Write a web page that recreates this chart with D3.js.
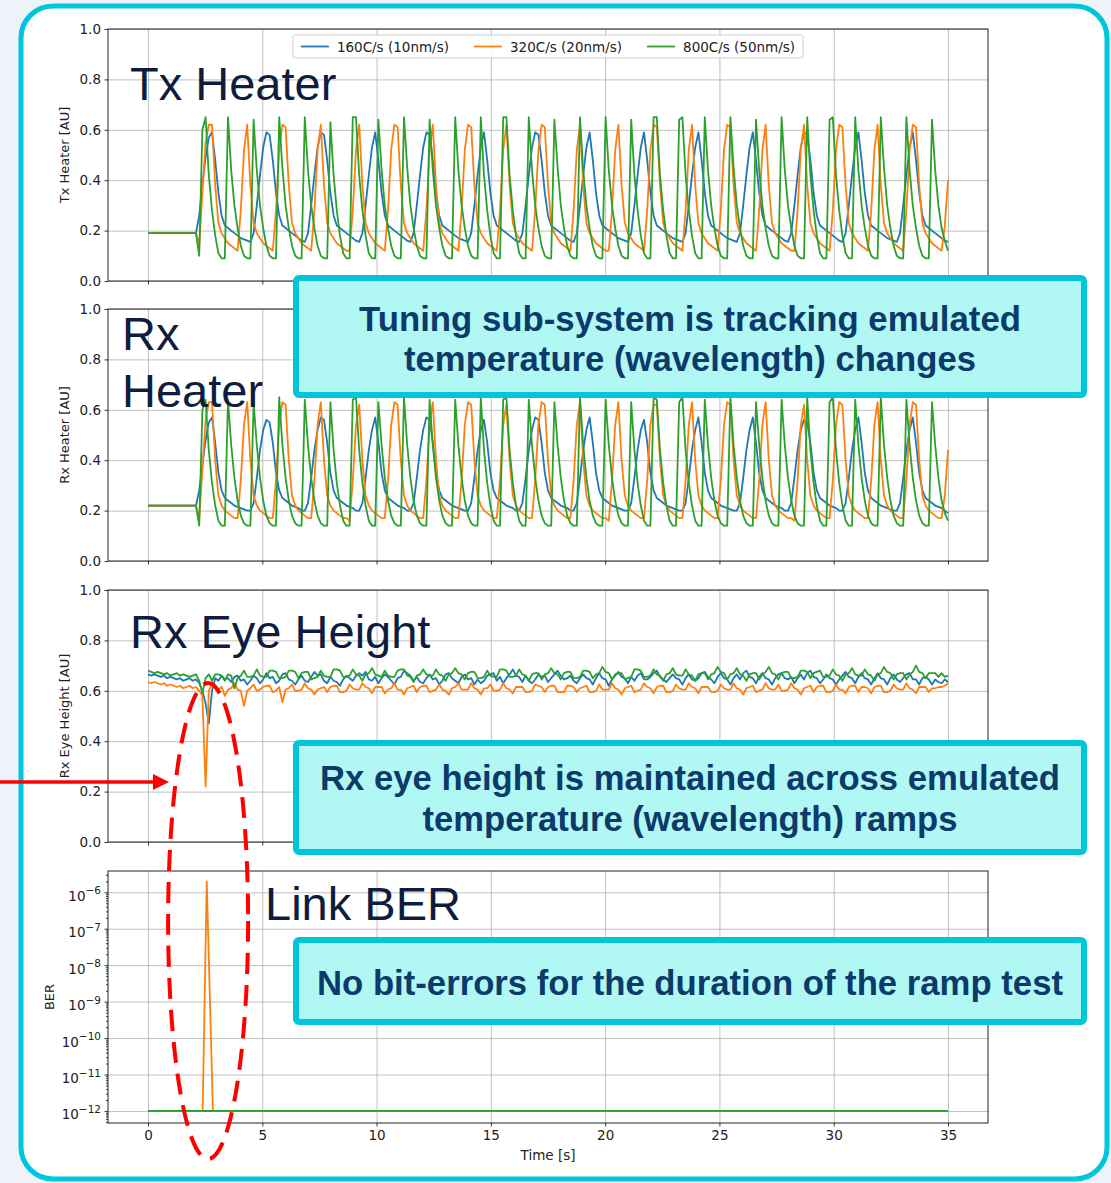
<!DOCTYPE html>
<html>
<head>
<meta charset="utf-8">
<script src="https://cdn.jsdelivr.net/npm/d3@7"></script>
<style>
	body { margin: 0; background: #eef2f9; }
	svg { display: block; font-family: "DejaVu Sans", sans-serif; }
</style>
</head>
<body>
<div id="chart"></div>
<script>

///////////////////////////////////////////////////////////////////////////
////////////////////////////////// Data ///////////////////////////////////
///////////////////////////////////////////////////////////////////////////

var sampleStep = 0.14; // seconds between two heater / eye samples
var seriesNames = ["160C/s (10nm/s)", "320C/s (20nm/s)", "800C/s (50nm/s)"];
var seriesColors = ["#1f77b4", "#ff7f0e", "#2ca02c"];
var xTicks = [0, 5, 10, 15, 20, 25, 30, 35];
var yTicks = [0, 0.2, 0.4, 0.6, 0.8, 1.0];
var berExponents = [-12, -11, -10, -9, -8, -7, -6];
var yLabels = ["Tx Heater [AU]", "Rx Heater [AU]", "Rx Eye Height [AU]", "BER"];
var panelTitles = [["Tx Heater"], ["Rx", "Heater"], ["Rx Eye Height"], ["Link BER"]];
var noteLines = [
	["Tuning sub-system is tracking emulated", "temperature (wavelength) changes"],
	["Rx eye height is maintained across emulated", "temperature (wavelength) ramps"],
	["No bit-errors for the duration of the ramp test"]
];

// Tx heater
var txBlue = [
	.19, .19, .19, .19, .19, .19, .19, .19, .19, .19, .19, .19, .19, .19, .19, .19,
	.26, .38, .49, .57, .59, .48, .35, .26, .22, .21, .20, .19, .18, .17, .165, .16, .155, .19, .30, .42, .53,
	.59, .58, .48, .35, .26, .22, .21, .20, .19, .18, .17, .16, .155, .19, .30, .42, .53,
	.59, .58, .48, .35, .26, .22, .21, .20, .19, .18, .17, .16, .155, .19, .30, .42, .53,
	.59, .48, .35, .26, .22, .21, .20, .19, .18, .17, .16, .155, .19, .30, .42, .53,
	.59, .58, .48, .35, .26, .22, .21, .20, .19, .18, .17, .165, .16, .155, .19, .30, .42, .53,
	.59, .48, .35, .26, .22, .21, .20, .19, .18, .17, .16, .155, .19, .30, .42, .53,
	.59, .58, .48, .35, .26, .22, .21, .20, .19, .18, .17, .16, .155, .19, .30, .42, .53,
	.59, .48, .35, .26, .22, .21, .20, .19, .18, .17, .165, .16, .155, .19, .30, .42, .53,
	.59, .48, .35, .26, .22, .21, .20, .19, .18, .17, .165, .16, .155, .19, .30, .42, .53,
	.59, .48, .35, .26, .22, .21, .20, .19, .18, .17, .165, .16, .155, .19, .30, .42, .53,
	.59, .48, .35, .26, .22, .21, .20, .19, .18, .17, .16, .155, .19, .30, .42, .53,
	.59, .58, .48, .35, .26, .22, .21, .20, .19, .18, .17, .16, .155, .19, .30, .42, .53,
	.59, .48, .35, .26, .22, .21, .20, .19, .18, .17, .165, .16, .155, .19, .30, .42, .53,
	.59, .48, .35, .26, .22, .21, .20, .19, .18, .17, .16, .155
];
var txOrange = [
	.19, .19, .19, .19, .19, .19, .19, .19, .19, .19, .19, .19, .19, .19, .19, .19,
	.14, .35, .55, .62, .62, .38, .23, .19, .17, .15, .14, .13, .12, .28, .52,
	.62, .38, .23, .19, .17, .15, .14, .13, .12, .28, .52,
	.62, .61, .38, .23, .19, .17, .15, .14, .13, .12, .28, .52,
	.62, .38, .23, .19, .17, .15, .14, .13, .12, .12, .28, .52,
	.62, .38, .23, .19, .17, .15, .14, .13, .12, .28, .52,
	.62, .61, .38, .23, .19, .17, .15, .14, .13, .12, .28, .52,
	.62, .38, .23, .19, .17, .15, .14, .13, .12, .28, .52,
	.62, .61, .38, .23, .19, .17, .15, .14, .13, .12, .28, .52,
	.62, .38, .23, .19, .17, .15, .14, .13, .12, .28, .52,
	.62, .61, .38, .23, .19, .17, .15, .14, .13, .12, .28, .52,
	.62, .38, .23, .19, .17, .15, .14, .13, .12, .12, .28, .52,
	.62, .38, .23, .19, .17, .15, .14, .13, .12, .28, .52,
	.62, .61, .38, .23, .19, .17, .15, .14, .13, .12, .28, .52,
	.62, .38, .23, .19, .17, .15, .14, .13, .12, .28, .52,
	.62, .61, .38, .23, .19, .17, .15, .14, .13, .12, .28, .52,
	.62, .38, .23, .19, .17, .15, .14, .13, .12, .12, .28, .52,
	.62, .38, .23, .19, .17, .15, .14, .13, .12, .28, .52,
	.62, .61, .38, .23, .19, .17, .15, .14, .13, .12, .28, .52,
	.62, .38, .23, .19, .17, .15, .14, .13, .12, .28, .52,
	.62, .61, .38, .23, .19, .17, .15, .14, .13, .12, .22, .40
];
var txGreen = [
	.19, .19, .19, .19, .19, .19, .19, .19, .19, .19, .19, .19, .19, .19, .19, .19,
	.10, .60, .65, .42, .28, .18, .11, .09, .09,
	.65, .44, .30, .21, .14, .10, .09, .09,
	.64, .44, .30, .21, .14, .10, .09, .09,
	.65, .45, .30, .21, .14, .10, .09, .09,
	.65, .44, .30, .21, .14, .10, .09, .09,
	.63, .42, .28, .18, .11, .09, .09,
	.65, .65, .42, .28, .18, .11, .09, .09,
	.64, .44, .30, .21, .14, .10, .09, .09,
	.65, .45, .30, .21, .14, .10, .09, .09,
	.64, .44, .30, .21, .14, .10, .09, .09,
	.65, .44, .30, .21, .14, .10, .09, .09,
	.65, .42, .28, .18, .11, .09, .09,
	.65, .65, .42, .28, .18, .11, .09, .09,
	.65, .44, .30, .21, .14, .10, .09, .09,
	.64, .45, .30, .21, .14, .10, .09, .09,
	.65, .44, .30, .21, .14, .10, .09, .09,
	.65, .44, .30, .21, .14, .10, .09, .09,
	.64, .42, .28, .18, .11, .09, .09,
	.65, .65, .42, .28, .18, .11, .09, .09,
	.64, .65, .42, .28, .18, .11, .09, .09,
	.65, .44, .30, .21, .14, .10, .09, .09,
	.65, .45, .30, .21, .14, .10, .09, .09,
	.64, .44, .30, .21, .14, .10, .09, .09,
	.65, .44, .30, .21, .14, .10, .09, .09,
	.65, .42, .28, .18, .11, .09, .09,
	.64, .65, .42, .28, .18, .11, .09, .09,
	.65, .44, .30, .21, .14, .10, .09, .09,
	.65, .45, .30, .21, .14, .10, .09, .09,
	.65, .44, .30, .21, .14, .10, .09, .09,
	.64, .44, .30, .21, .16, .12
];

// Rx heater
var rxBlue = [
	.22, .22, .22, .22, .22, .22, .22, .22, .22, .22, .22, .22, .22, .22, .22, .22,
	.28, .38, .48, .55, .57, .47, .35, .28, .25, .24, .23, .22, .215, .21, .205, .20, .20, .23, .33, .44, .52,
	.56, .55, .47, .35, .28, .25, .24, .23, .22, .215, .21, .20, .20, .23, .33, .44, .52,
	.57, .56, .47, .35, .28, .25, .24, .23, .22, .215, .21, .20, .20, .23, .33, .44, .52,
	.57, .47, .35, .28, .25, .24, .23, .22, .215, .21, .20, .20, .23, .33, .44, .52,
	.57, .56, .47, .35, .28, .25, .24, .23, .22, .215, .21, .205, .20, .20, .23, .33, .44, .52,
	.56, .47, .35, .28, .25, .24, .23, .22, .215, .21, .20, .20, .23, .33, .44, .52,
	.57, .56, .47, .35, .28, .25, .24, .23, .22, .215, .21, .20, .20, .23, .33, .44, .52,
	.57, .47, .35, .28, .25, .24, .23, .22, .215, .21, .205, .20, .20, .23, .33, .44, .52,
	.56, .47, .35, .28, .25, .24, .23, .22, .215, .21, .205, .20, .20, .23, .33, .44, .52,
	.57, .47, .35, .28, .25, .24, .23, .22, .215, .21, .205, .20, .20, .23, .33, .44, .52,
	.57, .47, .35, .28, .25, .24, .23, .22, .215, .21, .20, .20, .23, .33, .44, .52,
	.56, .55, .47, .35, .28, .25, .24, .23, .22, .215, .21, .20, .20, .23, .33, .44, .52,
	.57, .47, .35, .28, .25, .24, .23, .22, .215, .21, .205, .20, .20, .23, .33, .44, .52,
	.57, .47, .35, .28, .25, .24, .23, .22, .215, .21, .20, .19
];
var rxOrange = [
	.22, .22, .22, .22, .22, .22, .22, .22, .22, .22, .22, .22, .22, .22, .22, .22,
	.17, .36, .56, .63, .63, .40, .26, .22, .20, .19, .18, .17, .17, .32, .54,
	.63, .40, .26, .22, .20, .19, .18, .17, .17, .32, .54,
	.63, .62, .40, .26, .22, .20, .19, .18, .17, .17, .32, .54,
	.63, .40, .26, .22, .20, .19, .18, .17, .17, .16, .32, .54,
	.62, .40, .26, .22, .20, .19, .18, .17, .17, .32, .54,
	.63, .62, .40, .26, .22, .20, .19, .18, .17, .17, .32, .54,
	.63, .40, .26, .22, .20, .19, .18, .17, .17, .32, .54,
	.63, .62, .40, .26, .22, .20, .19, .18, .17, .17, .32, .54,
	.62, .40, .26, .22, .20, .19, .18, .17, .17, .32, .54,
	.63, .62, .40, .26, .22, .20, .19, .18, .17, .17, .32, .54,
	.63, .40, .26, .22, .20, .19, .18, .17, .17, .16, .32, .54,
	.63, .40, .26, .22, .20, .19, .18, .17, .17, .32, .54,
	.62, .62, .40, .26, .22, .20, .19, .18, .17, .17, .32, .54,
	.63, .40, .26, .22, .20, .19, .18, .17, .17, .32, .54,
	.63, .62, .40, .26, .22, .20, .19, .18, .17, .17, .32, .54,
	.63, .40, .26, .22, .20, .19, .18, .17, .17, .16, .32, .54,
	.62, .40, .26, .22, .20, .19, .18, .17, .17, .32, .54,
	.63, .62, .40, .26, .22, .20, .19, .18, .17, .17, .32, .54,
	.63, .40, .26, .22, .20, .19, .18, .17, .17, .32, .54,
	.63, .62, .40, .26, .22, .20, .19, .18, .17, .17, .26, .44
];
var rxGreen = [
	.22, .22, .22, .22, .22, .22, .22, .22, .22, .22, .22, .22, .22, .22, .22, .22,
	.14, .60, .64, .44, .31, .22, .16, .14, .14,
	.64, .46, .33, .24, .18, .15, .14, .14,
	.63, .46, .33, .24, .18, .15, .14, .14,
	.65, .46, .33, .24, .18, .15, .14, .14,
	.64, .46, .33, .24, .18, .15, .14, .14,
	.63, .44, .31, .22, .16, .14, .14,
	.64, .65, .44, .31, .22, .16, .14, .14,
	.63, .46, .33, .24, .18, .15, .14, .14,
	.65, .46, .33, .24, .18, .15, .14, .14,
	.64, .46, .33, .24, .18, .15, .14, .14,
	.64, .46, .33, .24, .18, .15, .14, .14,
	.65, .44, .31, .22, .16, .14, .14,
	.64, .65, .44, .31, .22, .16, .14, .14,
	.64, .46, .33, .24, .18, .15, .14, .14,
	.63, .46, .33, .24, .18, .15, .14, .14,
	.65, .46, .33, .24, .18, .15, .14, .14,
	.64, .46, .33, .24, .18, .15, .14, .14,
	.63, .44, .31, .22, .16, .14, .14,
	.65, .64, .44, .31, .22, .16, .14, .14,
	.63, .65, .44, .31, .22, .16, .14, .14,
	.64, .46, .33, .24, .18, .15, .14, .14,
	.65, .46, .33, .24, .18, .15, .14, .14,
	.63, .46, .33, .24, .18, .15, .14, .14,
	.64, .46, .33, .24, .18, .15, .14, .14,
	.65, .44, .31, .22, .16, .14, .14,
	.63, .65, .44, .31, .22, .16, .14, .14,
	.64, .46, .33, .24, .18, .15, .14, .14,
	.65, .46, .33, .24, .18, .15, .14, .14,
	.64, .46, .33, .24, .18, .15, .14, .14,
	.63, .46, .33, .24, .19, .16
];

// Rx eye height
var eyeBlue = [
	.665, .66, .665, .66, .655, .66, .65, .655, .65, .645, .65, .64, .645, .65, .64, .645,
	.63, .60, .55, .47, .60, .65, .64, .66, .645, .65,
	.635, .655, .66, .64, .645, .625, .64, .66, .65, .63,
	.645, .67, .65, .655, .63, .64, .665, .67, .645, .64,
	.625, .645, .66, .64, .635, .655, .675, .66, .665, .64,
	.63, .655, .64, .635, .62, .645, .66, .65, .64, .66,
	.67, .66, .675, .645, .64, .655, .63, .65, .665, .655,
	.64, .625, .65, .655, .68, .67, .66, .64, .655, .635,
	.63, .65, .665, .645, .65, .625, .64, .665, .67, .65,
	.64, .63, .655, .665, .645, .65, .625, .645, .63, .64,
	.66, .665, .67, .64, .655, .63, .65, .665, .685, .66,
	.655, .635, .66, .64, .63, .645, .665, .655, .66, .635,
	.65, .665, .68, .66, .645, .65, .66, .64, .63, .65,
	.665, .65, .645, .625, .65, .67, .65, .645, .62, .645,
	.66, .675, .655, .65, .63, .655, .64, .66, .67, .645,
	.645, .655, .67, .68, .655, .645, .635, .65, .665, .65,
	.645, .625, .65, .665, .645, .64, .65, .67, .675, .655,
	.645, .63, .655, .67, .65, .645, .625, .65, .665, .645,
	.67, .68, .655, .65, .63, .655, .67, .65, .645, .625,
	.65, .665, .67, .65, .645, .655, .63, .65, .665, .645,
	.67, .68, .655, .65, .63, .645, .665, .65, .645, .625,
	.645, .66, .675, .655, .65, .63, .655, .67, .65, .645,
	.625, .65, .67, .65, .645, .625, .65, .665, .645, .635,
	.65, .665, .67, .645, .645, .625, .65, .655, .645, .625,
	.645, .635, .63, .645, .635
];
var eyeOrange = [
	.635, .63, .635, .63, .625, .63, .62, .625, .62, .615, .62, .61, .615, .62, .61, .615,
	.60, .58, .22, .60, .63, .61, .605, .615, .58, .605,
	.61, .63, .605, .60, .54, .60, .61, .625, .60, .605,
	.615, .62, .62, .595, .60, .615, .555, .605, .61, .625,
	.60, .60, .605, .63, .61, .605, .585, .605, .61, .615,
	.595, .615, .62, .62, .595, .595, .60, .625, .61, .605,
	.605, .63, .615, .61, .59, .615, .615, .615, .59, .605,
	.61, .63, .605, .605, .585, .61, .615, .62, .595, .615,
	.62, .62, .595, .60, .605, .625, .605, .60, .585, .61,
	.615, .63, .605, .605, .605, .63, .61, .605, .585, .61,
	.61, .625, .60, .60, .605, .63, .61, .605, .59, .615,
	.615, .615, .595, .595, .60, .625, .62, .615, .595, .615,
	.62, .62, .595, .595, .595, .62, .62, .615, .595, .61,
	.615, .62, .595, .595, .60, .625, .605, .605, .605, .63,
	.61, .605, .585, .61, .615, .62, .595, .60, .605, .63,
	.615, .61, .59, .615, .62, .62, .595, .595, .60, .625,
	.61, .605, .605, .63, .615, .61, .59, .615, .615, .615,
	.595, .595, .60, .625, .61, .605, .605, .63, .61, .605,
	.585, .61, .615, .62, .595, .60, .605, .63, .61, .605,
	.605, .625, .60, .60, .605, .63, .61, .605, .585, .61,
	.615, .62, .595, .615, .62, .62, .595, .595, .60, .625,
	.605, .605, .59, .615, .62, .62, .595, .615, .615, .61,
	.59, .615, .62, .62, .595, .595, .60, .625, .61, .605,
	.605, .63, .61, .605, .59, .615, .615, .615, .595, .61,
	.61, .615, .615, .62, .63
];
var eyeGreen = [
	.68, .675, .67, .675, .67, .665, .67, .66, .665, .67, .66, .665, .66, .655, .66, .665,
	.64, .59, .65, .665, .64, .665, .665, .66, .64, .665,
	.66, .61, .65, .66, .68, .655, .655, .66, .685, .66,
	.655, .655, .68, .68, .675, .65, .65, .655, .68, .68,
	.675, .65, .67, .675, .675, .645, .65, .655, .68, .66,
	.655, .655, .685, .685, .68, .655, .655, .66, .685, .665,
	.66, .64, .665, .67, .69, .665, .66, .655, .68, .66,
	.655, .655, .68, .685, .685, .66, .655, .635, .66, .665,
	.685, .665, .66, .66, .685, .665, .66, .64, .665, .67,
	.69, .67, .665, .645, .67, .675, .675, .65, .65, .655,
	.68, .66, .655, .655, .685, .685, .68, .655, .655, .66,
	.685, .665, .66, .64, .665, .67, .67, .645, .665, .67,
	.69, .67, .665, .645, .67, .675, .675, .65, .65, .655,
	.68, .68, .675, .65, .665, .67, .695, .675, .67, .645,
	.665, .67, .67, .645, .65, .655, .685, .685, .68, .655,
	.655, .66, .685, .665, .66, .64, .665, .67, .69, .665,
	.66, .66, .685, .665, .66, .64, .665, .67, .67, .645,
	.665, .67, .695, .675, .67, .645, .665, .67, .69, .665,
	.66, .64, .665, .67, .67, .645, .665, .675, .695, .67,
	.665, .645, .67, .675, .675, .65, .65, .655, .68, .68,
	.675, .65, .67, .675, .68, .655, .655, .66, .685, .665,
	.66, .64, .665, .67, .69, .665, .66, .66, .685, .665,
	.66, .64, .665, .67, .695, .675, .67, .645, .665, .67,
	.67, .645, .665, .675, .70, .675, .67, .65, .67, .67,
	.67, .655, .67, .655, .66
];

// Link BER (own time base, only the 320C/s run shows errors)
var berTime = [0, 2.39, 2.57, 2.84, 35];
var berBlue = [1e-12, 1e-12, 1e-12, 1e-12, 1e-12];
var berOrange = [1e-12, 1e-12, 2e-6, 1e-12, 1e-12];
var berGreen = [1e-12, 1e-12, 1e-12, 1e-12, 1e-12];

///////////////////////////////////////////////////////////////////////////
//////////////////////////////// Draw figure //////////////////////////////
///////////////////////////////////////////////////////////////////////////

function drawFigure() {

	var svgW = 1111,
		svgH = 1183;
	var plotLeft = 108,
		plotRight = 988,
		panelH = 252;
	var panelTop = [29, 309, 590, 871];
	var navy = "#0e1d3d",
		cyan = "#00c6dc";

	var svg = d3.select("#chart")
		.append("svg")
		.attr("width", svgW)
		.attr("height", svgH);

	// slide background and rounded frame
	svg.append("rect")
		.attr("width", svgW)
		.attr("height", svgH)
		.attr("fill", "#eef2f9");
	svg.append("rect")
		.attr("x", 21).attr("y", 6)
		.attr("width", 1086).attr("height", 1173)
		.attr("rx", 32)
		.attr("fill", "#fff")
		.attr("stroke", cyan)
		.attr("stroke-width", 5);

	var x = d3.scaleLinear()
		.domain([-1.75, 36.75])
		.range([plotLeft, plotRight]);

	var panels = [
		{ series: [txBlue, txOrange, txGreen] },
		{ series: [rxBlue, rxOrange, rxGreen] },
		{ series: [eyeBlue, eyeOrange, eyeGreen] },
		{ series: [berBlue, berOrange, berGreen], log: true }
	];

	function gridStyle(sel) {
		sel.select(".domain").remove();
		sel.selectAll("line")
			.attr("stroke", "#b0b0b0")
			.attr("stroke-width", 0.8);
	}

	function tickStyle(sel) {
		sel.select(".domain").remove();
		sel.selectAll("line").attr("stroke", "#222").attr("stroke-width", 0.9);
		sel.selectAll("text")
			.attr("fill", "#222")
			.style("font-size", "13.5px")
			.style("font-family", "DejaVu Sans");
	}

	panels.forEach(function(p, k) {
		var top = panelTop[k],
			bottom = top + panelH;
		var g = svg.append("g").attr("class", "panel");

		var y = p.log ?
			d3.scaleLog().domain([Math.pow(10, -12.33), Math.pow(10, -5.416)]).range([bottom, top]) :
			d3.scaleLinear().domain([0, 1]).range([bottom, top]);
		var yMajor = p.log ? berExponents.map(function(e) { return Math.pow(10, e); }) : yTicks;

		// grid
		g.append("g")
			.attr("transform", "translate(0," + bottom + ")")
			.call(d3.axisBottom(x).tickValues(xTicks).tickSize(-panelH).tickFormat(""))
			.call(gridStyle);
		g.append("g")
			.attr("transform", "translate(" + plotLeft + ",0)")
			.call(d3.axisLeft(y).tickValues(yMajor).tickSize(-(plotRight - plotLeft)).tickFormat(""))
			.call(gridStyle);

		// lines
		g.append("clipPath")
			.attr("id", "clip-" + k)
			.append("rect")
			.attr("x", plotLeft).attr("y", top)
			.attr("width", plotRight - plotLeft).attr("height", panelH);

		var line = d3.line()
			.x(function(d, i) { return p.log ? x(berTime[i]) : x(i * sampleStep); })
			.y(function(d) { return y(d); });

		p.series.forEach(function(s, j) {
			g.append("path")
				.datum(s)
				.attr("clip-path", "url(#clip-" + k + ")")
				.attr("d", line)
				.attr("fill", "none")
				.attr("stroke", seriesColors[j])
				.attr("stroke-width", 1.8)
				.attr("stroke-linejoin", "round");
		});

		// spines
		g.append("rect")
			.attr("x", plotLeft).attr("y", top)
			.attr("width", plotRight - plotLeft).attr("height", panelH)
			.attr("fill", "none")
			.attr("stroke", "#222")
			.attr("stroke-width", 1);

		// x ticks (labels only on the bottom panel)
		g.append("g")
			.attr("transform", "translate(0," + bottom + ")")
			.call(d3.axisBottom(x).tickValues(xTicks).tickSize(3.5).tickPadding(4)
				.tickFormat(k === 3 ? d3.format("d") : ""))
			.call(tickStyle);

		// y ticks
		if (!p.log) {
			g.append("g")
				.attr("transform", "translate(" + plotLeft + ",0)")
				.call(d3.axisLeft(y).tickValues(yTicks).tickSize(3.5).tickPadding(3.5).tickFormat(d3.format(".1f")))
				.call(tickStyle);
		} else {
			var minor = [];
			berExponents.concat([-13]).forEach(function(e) {
				d3.range(2, 10).forEach(function(m) {
					var v = m * Math.pow(10, e);
					if (v > y.domain()[0] && v < y.domain()[1]) minor.push(v);
				});
			});
			g.append("g")
				.attr("transform", "translate(" + plotLeft + ",0)")
				.call(d3.axisLeft(y).tickValues(minor).tickSize(2).tickFormat(""))
				.call(tickStyle);
			var yAx = g.append("g")
				.attr("transform", "translate(" + plotLeft + ",0)")
				.call(d3.axisLeft(y).tickValues(yMajor).tickSize(3.5).tickFormat(""))
				.call(tickStyle);
			yAx.selectAll(".tick").each(function(d, i) {
				var t = d3.select(this).append("text")
					.attr("x", -7)
					.attr("y", 8)
					.attr("text-anchor", "end")
					.attr("fill", "#222")
					.style("font-family", "DejaVu Sans")
					.style("font-size", "13.5px");
				t.append("tspan").text("10");
				t.append("tspan")
					.attr("dy", -6.5)
					.style("font-size", "10.5px")
					.text("\u2212" + Math.abs(berExponents[i]));
			});
		}

		// y label
		g.append("text")
			.attr("transform", "translate(" + (p.log ? 49 : 64) + "," + (top + panelH / 2) + ") rotate(-90)")
			.attr("text-anchor", "middle")
			.attr("dy", "0.35em")
			.attr("fill", "#222")
			.style("font-size", "13px")
			.text(yLabels[k]);
	});

	// x label
	svg.append("text")
		.attr("x", (plotLeft + plotRight) / 2)
		.attr("y", 1160)
		.attr("text-anchor", "middle")
		.attr("fill", "#222")
		.style("font-size", "13.5px")
		.text("Time [s]");

	///////////////////////////////////////////////////////////////////////////
	///////////////////////////////// Legend //////////////////////////////////
	///////////////////////////////////////////////////////////////////////////

	var legend = svg.append("g").attr("class", "legend");
	var legendBox = legend.append("rect");
	var items = legend.selectAll(".item")
		.data(seriesNames)
		.enter()
		.append("g")
		.attr("class", "item");
	items.append("line")
		.attr("x1", 0).attr("x2", 28)
		.attr("y1", 0).attr("y2", 0)
		.attr("stroke", function(d, i) { return seriesColors[i]; })
		.attr("stroke-width", 1.8);
	items.append("text")
		.attr("x", 36)
		.attr("y", 5)
		.attr("fill", "#222")
		.style("font-size", "13.5px")
		.text(function(d) { return d; });

	var widths = [];
	items.each(function() {
		widths.push(36 + this.querySelector("text").getComputedTextLength());
	});
	var colGap = 25,
		pad = 8;
	var total = d3.sum(widths) + colGap * (widths.length - 1) + 2 * pad;
	var left = (plotLeft + plotRight) / 2 - total / 2;
	var cursor = left + pad;
	items.attr("transform", function(d, i) {
		var tx = cursor;
		cursor += widths[i] + colGap;
		return "translate(" + tx + ",46.5)";
	});
	legendBox
		.attr("x", left).attr("y", 35)
		.attr("width", total).attr("height", 23)
		.attr("rx", 2.5)
		.attr("fill", "#fff")
		.attr("fill-opacity", 0.85)
		.attr("stroke", "#cfcfcf");

	///////////////////////////////////////////////////////////////////////////
	////////////////////////////// Annotations ////////////////////////////////
	///////////////////////////////////////////////////////////////////////////

	var titlePos = [[130, [100]], [122, [350, 407]], [130, [648]], [265, [920]]];
	panelTitles.forEach(function(lines, k) {
		lines.forEach(function(l, j) {
			svg.append("text")
				.attr("x", titlePos[k][0])
				.attr("y", titlePos[k][1][j])
				.attr("fill", navy)
				.style("font-family", "Liberation Sans, Arial, sans-serif")
				.style("font-size", "47px")
				.text(l);
		});
	});

	var boxes = [
		{ y: 278, h: 117, base: [331, 371], w: [662, 572] },
		{ y: 743, h: 109, base: [790, 831], w: [740, 535] },
		{ y: 940, h: 82, base: [995], w: [746] }
	];
	boxes.forEach(function(b, k) {
		svg.append("rect")
			.attr("x", 296).attr("y", b.y)
			.attr("width", 788).attr("height", b.h)
			.attr("rx", 3)
			.attr("fill", "#b1f7f4")
			.attr("stroke", cyan)
			.attr("stroke-width", 6);
		noteLines[k].forEach(function(l, j) {
			svg.append("text")
				.attr("x", 690)
				.attr("y", b.base[j])
				.attr("text-anchor", "middle")
				.attr("textLength", b.w[j])
				.attr("lengthAdjust", "spacingAndGlyphs")
				.attr("fill", "#0b3a6b")
				.style("font-family", "Liberation Sans Narrow, Arial Narrow, Liberation Sans, sans-serif")
				.style("font-weight", "bold")
				.style("font-size", "35px")
				.text(l);
		});
	});

	// red dashed ellipse round the error event
	svg.append("ellipse")
		.attr("cx", x(2.63)).attr("cy", 921)
		.attr("rx", 40).attr("ry", 238)
		.attr("fill", "none")
		.attr("stroke", "#ff0000")
		.attr("stroke-width", 4)
		.attr("stroke-dasharray", "21 11");

	// red arrow from the left edge
	svg.append("line")
		.attr("x1", 0).attr("x2", 156)
		.attr("y1", 782).attr("y2", 782)
		.attr("stroke", "#ff0000")
		.attr("stroke-width", 3.5);
	svg.append("path")
		.attr("d", "M153,774 L169,782 L153,790 Z")
		.attr("fill", "#ff0000");
}

drawFigure();
</script>
</body>
</html>
